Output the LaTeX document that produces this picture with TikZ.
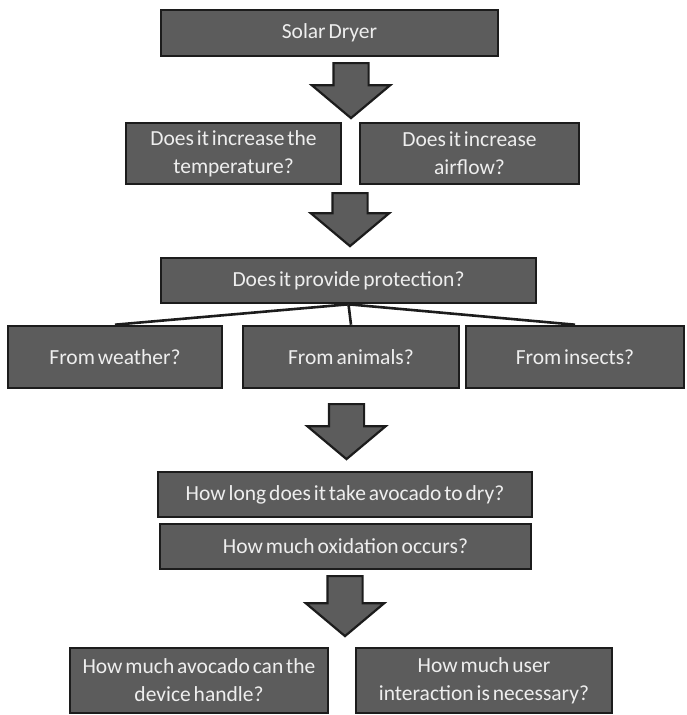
\documentclass[tikz,border=0pt]{standalone}
\usepackage{fontspec}
\setmainfont{Carlito}[WordSpace=0.6]
\usetikzlibrary{shapes.arrows}
\definecolor{boxgray}{RGB}{92,92,92}
\definecolor{boxedge}{RGB}{28,28,28}
\definecolor{boxtext}{RGB}{238,238,238}
\tikzset{
  qbox/.style={rectangle,fill=boxgray,draw=boxedge,line width=2.6pt,text=boxtext,align=center,inner sep=0pt,font=\fontsize{21.5}{28}\selectfont},
  barrow/.style={single arrow,shape border rotate=270,anchor=tail,fill=boxgray,draw=boxedge,line width=2.2pt,inner xsep=16.5pt,inner ysep=0pt,
    minimum width=76pt,single arrow head extend=21.5pt,single arrow tip angle=100},
  tline/.style={line width=2.6pt,draw=boxedge}
}
\begin{document}
\begin{tikzpicture}[x=1pt,y=-1pt]
  \useasboundingbox (0,0) rectangle (686,715);
  % top
  \node[qbox,minimum width=337pt,minimum height=46pt] (dryer) at (329.5,33) {Solar Dryer};
  \node[barrow,minimum height=55pt] (a1) at (351,62) {};
  \node[qbox,minimum width=215pt,minimum height=61pt] (temp) at (233.5,153.5) {Does it increase the\\temperature?};
  \node[qbox,minimum width=219pt,minimum height=61pt] (air) at (469.5,153.5) {Does it increase\\airflow?};
  \node[barrow,minimum height=53pt] (a2) at (350,192) {};
  % protection
  \node[qbox,minimum width=375pt,minimum height=45pt] (prot) at (348.5,280.5) {Does it provide protection?};
  \node[qbox,minimum width=214pt,minimum height=62pt] (weather) at (115,357) {From weather?};
  \node[qbox,minimum width=216pt,minimum height=62pt] (animals) at (351,357) {From animals?};
  \node[qbox,minimum width=218pt,minimum height=62pt] (insects) at (575,357) {From insects?};
  \draw[tline] (prot.south) -- (weather.north);
  \draw[tline] (prot.south) -- (animals.north);
  \draw[tline] (prot.south) -- (insects.north);
  \node[barrow,minimum height=55pt] (a3) at (346.5,403) {};
  % drying
  \node[qbox,minimum width=374pt,minimum height=45pt] (long) at (345,494.5) {How long does it take avocado to dry?};
  \node[qbox,minimum width=371pt,minimum height=45pt] (oxid) at (345.5,546.5) {How much oxidation occurs?};
  \node[barrow,minimum height=60pt] (a4) at (345,575) {};
  % bottom
  \node[qbox,minimum width=258pt,minimum height=65pt] (handle) at (199,680.5) {How much avocado can the\\device handle?};
  \node[qbox,minimum width=256pt,minimum height=65pt] (user) at (484,680.5) {How much user\\interaction is necessary?};
\end{tikzpicture}
\end{document}
